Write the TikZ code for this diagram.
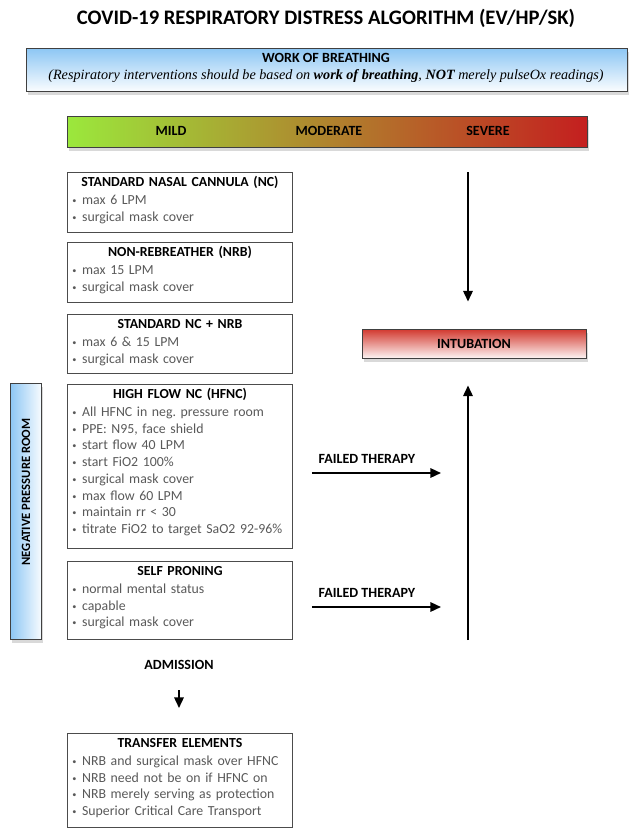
\documentclass[tikz,border=0pt]{standalone}
\usepackage{fontspec}
\setmainfont{Carlito}
\newfontfamily\timesfont{Liberation Serif}
\usetikzlibrary{arrows.meta,shadows,fit,positioning}

\definecolor{skyblue}{HTML}{8CC6F4}
\definecolor{mildgreen}{HTML}{9BE83C}
\definecolor{modolive}{HTML}{A38A2B}
\definecolor{sevred}{HTML}{C41F1F}
\definecolor{intred}{HTML}{D2382E}
\definecolor{itemgray}{HTML}{595959}

\newcommand\bul{{\raisebox{0.15ex}{\scalebox{0.6}{\textbullet}}}\hspace{0.4em}}
\newcommand\boxhead[1]{{\centering\color{black}\bfseries #1\par}\vspace{1pt}}

\tikzset{
  shadowed/.style={drop shadow={opacity=0.3, shadow xshift=2pt, shadow yshift=-3pt}},
}

\begin{document}
\frenchspacing
\begin{tikzpicture}[x=0.03cm, y=-0.03cm,
  gradbox/.style={draw=black!75, thick, inner sep=0pt, shadowed},
  stepbox/.style={draw=black!70, thick, anchor=north west, inner xsep=0.15cm, inner ysep=0.1cm,
    text width=6.45cm, text height=9pt, font=\fontsize{11.8}{14.3}\selectfont, text=itemgray},
  bigarrow/.style={line width=1.6pt, -{Triangle[length=9pt,width=8pt]}},
  barlabel/.style={font=\fontsize{12}{14}\selectfont\bfseries}
]
\useasboundingbox (0,0) rectangle (637,832);

% title
\node[font=\fontsize{17.6}{20}\selectfont\bfseries] (title) at (326,18) {COVID-19 RESPIRATORY DISTRESS ALGORITHM (EV/HP/SK)};

% work of breathing
\node[gradbox, top color=skyblue, bottom color=skyblue!5, fit={(26,48) (627,91)}] (wob) {};
\node[barlabel] (wobhead) at (326,58) {WORK OF BREATHING};
\node[font=\timesfont\fontsize{12.1}{14}\selectfont\itshape] (wobnote) at (326,76)
  {(Respiratory interventions should be based on \textbf{work of breathing}, \textbf{NOT} merely pulseOx readings)};

% severity scale
\node[gradbox, left color=mildgreen, middle color=modolive, right color=sevred, fit={(67,116) (587,147)}] (sev) {};
\node[barlabel] (mild) at (171,131) {MILD};
\node[barlabel] (moderate) at (329,131) {MODERATE};
\node[barlabel] (severe) at (488,131) {SEVERE};

% therapies
\node[stepbox, text depth=1.284cm] (nc) at (67,172)
  {\boxhead{STANDARD NASAL CANNULA (NC)}\bul max 6 LPM\par\bul surgical mask cover};
\node[stepbox, text depth=1.284cm] (nrb) at (67,242)
  {\boxhead{NON-REBREATHER (NRB)}\bul max 15 LPM\par\bul surgical mask cover};
\node[stepbox, text depth=1.254cm] (ncnrb) at (67,314)
  {\boxhead{STANDARD NC + NRB}\bul max 6 \& 15 LPM\par\bul surgical mask cover};
\node[stepbox, text depth=4.404cm] (hfnc) at (67,384)
  {\boxhead{HIGH FLOW NC (HFNC)}\raggedright\bul All HFNC in neg. pressure room\par\bul PPE: N95, face shield\par
   \bul start flow 40 LPM\par\bul start FiO2 100\%\par\bul surgical mask cover\par
   \bul max flow 60 LPM\par\bul maintain rr < 30\par\mbox{\bul titrate FiO2 to target SaO2 92-96\%}};
\node[stepbox, text depth=1.824cm] (prone) at (67,561)
  {\boxhead{SELF PRONING}\bul normal mental status\par\bul capable\par\bul surgical mask cover};

% negative pressure room
\node[gradbox, left color=skyblue, right color=skyblue!8, fit={(10,383) (41,639)}] (neg) {};
\node[font=\fontsize{10.8}{12}\selectfont\bfseries, rotate=90] (negtext) at (26,492) {NEGATIVE PRESSURE ROOM};

% intubation
\node[gradbox, top color=intred, bottom color=intred!6, fit={(362,329) (586,358)}] (intub) {};
\node[barlabel] (intubtext) at (intub) {INTUBATION};

\coordinate (downtop) at (468,172);
\coordinate (upfoot) at (468,640);
\draw[bigarrow, shorten >=0.81cm] (downtop) -- (intub.north -| downtop);
\draw[bigarrow, shorten >=0.81cm] (upfoot) -- (intub.south -| upfoot);

\coordinate (fail1) at (441,473);
\coordinate (fail2) at (441,607);
\draw[bigarrow, shorten <=0.57cm] (hfnc.east |- fail1) -- node[barlabel, above=4pt] (failtext1) {FAILED THERAPY} (fail1);
\draw[bigarrow, shorten <=0.57cm] (prone.east |- fail2) -- node[barlabel, above=4pt] (failtext2) {FAILED THERAPY} (fail2);

% admission
\node[barlabel] (adm) at (179,665) {ADMISSION};
\node[stepbox, text depth=2.304cm] (transfer) at (67,733)
  {\boxhead{TRANSFER ELEMENTS}\bul NRB and surgical mask over HFNC\par\bul NRB need not be on if HFNC on\par
   \bul NRB merely serving as protection\par\bul Superior Critical Care Transport};
\draw[bigarrow, shorten <=0.5cm, shorten >=0.75cm] (adm.south) -- (transfer.north -| adm.south);
\end{tikzpicture}
\end{document}
